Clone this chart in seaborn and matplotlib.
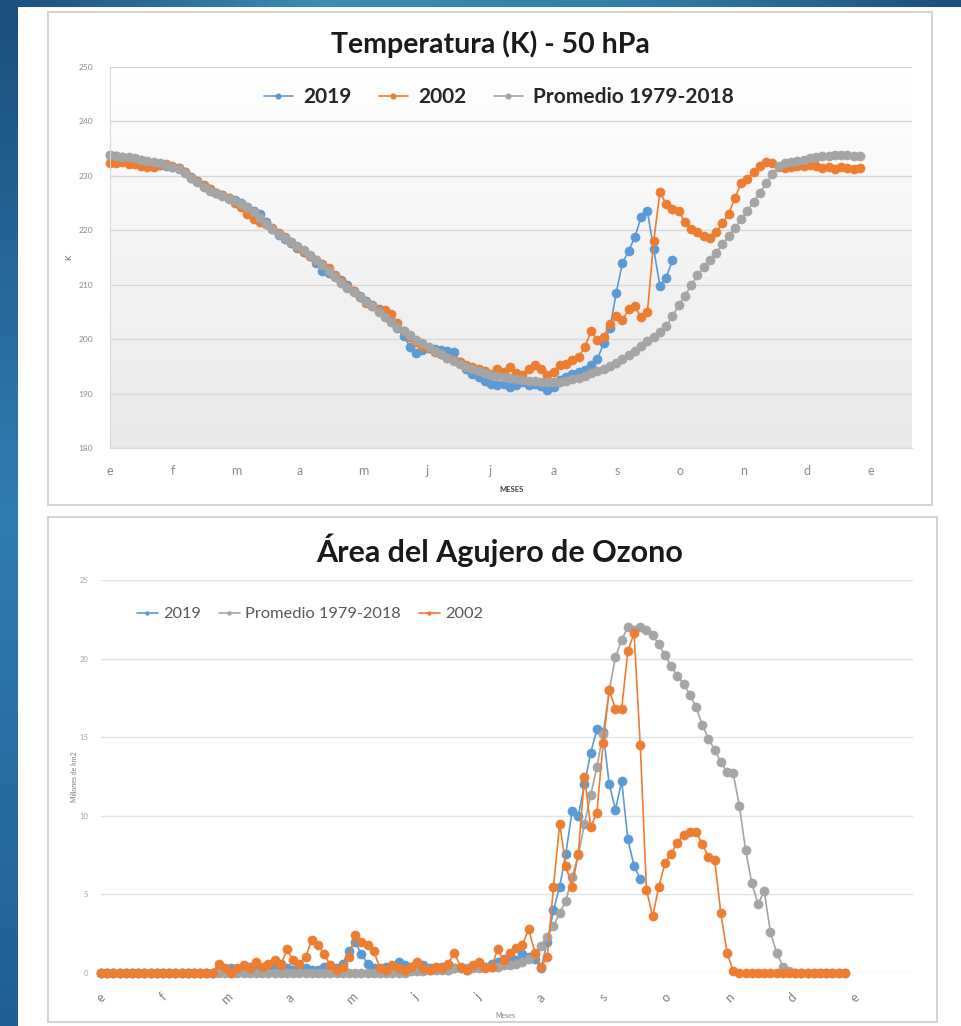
import numpy as np
import matplotlib
matplotlib.use("Agg")
import matplotlib.pyplot as plt
import seaborn as sns
from matplotlib.patches import Rectangle
from matplotlib.colors import LinearSegmentedColormap

# ---- datos: un valor cada 3 dias desde el 1 de enero ----
meses = ["e", "f", "m", "a", "m", "j", "j", "a", "s", "o", "n", "d", "e"]

temp_2019 = [
    233.9, 233.6, 233.4, 233.2, 233.1, 232.9, 232.3, 231.8, 232.0, 231.9,
    231.6, 231.5, 230.8, 229.8, 229.1, 228.2, 227.5, 226.9, 226.4, 225.9,
    225.5, 225.0, 224.3, 223.6, 223.0, 221.5, 220.3, 219.1, 218.4, 217.7,
    216.8, 216.1, 215.2, 214.0, 212.6, 212.1, 211.6, 210.8, 209.9, 208.9,
    207.9, 207.0, 206.2, 205.6, 204.6, 203.3, 202.0, 200.6, 198.6, 197.4,
    198.0, 198.3, 198.2, 198.0, 197.9, 197.6, 195.8, 194.6, 193.6, 193.0,
    192.4, 191.8, 191.5, 191.8, 191.2, 191.6, 192.2, 191.5, 191.7, 191.3,
    190.6, 191.2, 192.5, 193.1, 193.6, 194.0, 194.3, 195.2, 196.4, 199.2,
    202.0, 208.5, 214.0, 216.2, 218.8, 222.5, 223.5, 216.5, 209.8, 211.3,
    214.5,
]
temp_2002 = [
    232.3, 232.4, 232.5, 232.2, 232.1, 231.9, 231.6, 231.7, 232.0, 232.1,
    231.9, 231.4, 230.7, 229.6, 229.0, 228.3, 227.5, 226.9, 226.4, 225.9,
    225.0, 224.2, 223.0, 222.0, 221.6, 221.2, 220.4, 219.5, 218.7, 217.8,
    216.9, 216.1, 215.3, 214.6, 213.8, 213.0, 211.8, 210.6, 209.5, 208.8,
    207.8, 206.7, 206.0, 205.4, 205.3, 204.6, 203.0, 201.5, 200.4, 199.4,
    198.8, 198.3, 197.6, 197.2, 196.6, 196.2, 195.8, 195.3, 194.8, 194.6,
    194.2, 193.6, 194.5, 194.0, 194.9, 193.8, 193.5, 194.6, 195.2, 194.6,
    193.4, 194.0, 195.3, 195.5, 196.2, 196.8, 198.6, 201.5, 199.8, 200.4,
    202.8, 204.3, 203.5, 205.5, 206.0, 204.0, 205.0, 218.0, 227.0, 224.8,
    224.0, 223.5, 221.5, 220.3, 219.6, 219.0, 218.6, 219.6, 221.3, 223.0,
    226.0, 228.6, 229.5, 230.8, 231.9, 232.6, 232.3, 231.7, 231.5, 231.6,
    231.8, 231.9, 232.0, 231.9, 231.5, 231.7, 231.3, 231.6, 231.5, 231.3,
    231.4,
]
temp_prom = [
    233.8, 233.6, 233.5, 233.4, 233.2, 233.0, 232.8, 232.6, 232.3, 232.0,
    231.7, 231.3, 230.6, 229.6, 228.9, 228.0, 227.3, 226.8, 226.3, 225.8,
    225.4, 224.9, 224.2, 223.3, 222.3, 221.2, 220.2, 219.3, 218.6, 217.9,
    217.1, 216.3, 215.4, 214.5, 213.6, 212.6, 211.4, 210.3, 209.4, 208.6,
    207.8, 206.9, 206.0, 205.0, 204.0, 203.1, 202.3, 201.5, 200.7, 199.9,
    199.2, 198.5, 197.8, 197.2, 196.6, 196.0, 195.4, 194.9, 194.5, 194.1,
    193.8, 193.5, 193.2, 193.0, 192.8, 192.6, 192.5, 192.4, 192.3, 192.2,
    192.2, 192.2, 192.2, 192.3, 192.6, 192.9, 193.3, 193.7, 194.1, 194.6,
    195.1, 195.7, 196.4, 197.1, 197.9, 198.7, 199.6, 200.4, 201.3, 202.4,
    204.2, 206.2, 208.0, 209.9, 211.7, 213.2, 214.6, 215.9, 217.4, 218.9,
    220.4, 222.0, 223.6, 225.2, 226.9, 228.6, 230.4, 231.9, 232.4, 232.6,
    232.8, 233.0, 233.2, 233.4, 233.6, 233.7, 233.8, 233.8, 233.8, 233.7,
    233.6,
]

area_2019 = [
    0, 0, 0, 0, 0, 0, 0, 0, 0, 0,
    0, 0, 0, 0, 0, 0, 0, 0, 0, 0.2,
    0.1, 0.3, 0.1, 0.2, 0.4, 0.3, 0.1, 0.3, 0.5, 0.6,
    0.3, 0.2, 0.4, 0.3, 0.2, 0.2, 0.4, 0.2, 0.3, 0.6,
    1.4, 2.0, 1.2, 0.6, 0.3, 0.2, 0.4, 0.3, 0.7, 0.5,
    0.4, 0.3, 0.5, 0.3, 0.3, 0.4, 0.2, 0.3, 0.3, 0.2,
    0.4, 0.5, 0.4, 0.6, 0.7, 0.9, 1.1, 0.8, 1.2, 1.0,
    0.9, 0.3, 2.0, 4.0, 5.5, 7.6, 10.3, 10.0, 12.0, 14.0,
    15.5, 15.3, 12.0, 10.4, 12.2, 8.5, 6.8, 6.0,
]
area_prom = [
    0, 0, 0, 0, 0, 0, 0, 0, 0, 0,
    0, 0, 0, 0, 0, 0, 0, 0, 0, 0,
    0, 0, 0, 0, 0, 0, 0, 0, 0, 0,
    0, 0, 0, 0, 0, 0, 0, 0, 0, 0,
    0, 0, 0, 0, 0, 0, 0, 0, 0, 0,
    0.1, 0.1, 0.1, 0.2, 0.2, 0.2, 0.2, 0.3, 0.3, 0.3,
    0.3, 0.3, 0.4, 0.4, 0.4, 0.5, 0.5, 0.6, 0.7, 0.9,
    1.2, 1.7, 2.3, 3.0, 3.8, 4.6, 6.1, 7.5, 9.5, 11.3,
    13.1, 15.2, 18.0, 20.1, 21.2, 22.0, 21.8, 22.0, 21.8, 21.5,
    20.9, 20.2, 19.5, 18.9, 18.4, 17.7, 16.9, 15.8, 14.9, 14.2,
    13.4, 12.8, 12.7, 10.6, 7.8, 5.7, 4.4, 5.2, 2.6, 1.3,
    0.4, 0.1, 0, 0, 0, 0, 0, 0, 0, 0,
    0,
]
area_2002 = [
    0, 0, 0, 0, 0, 0, 0, 0, 0, 0,
    0, 0, 0, 0, 0, 0, 0, 0, 0, 0.6,
    0.3, 0.0, 0.3, 0.5, 0.3, 0.7, 0.4, 0.6, 0.8, 0.5,
    1.5, 0.8, 0.6, 1.0, 2.1, 1.8, 1.2, 0.5, 0.2, 0.4,
    1.0, 2.4, 2.0, 1.8, 1.4, 0.3, 0.2, 0.5, 0.3, 0.2,
    0.4, 0.7, 0.3, 0.2, 0.4, 0.3, 0.6, 1.3, 0.4, 0.2,
    0.5, 0.7, 0.3, 0.4, 1.5, 0.8, 1.3, 1.6, 1.8, 2.8,
    1.3, 0.4, 1.0, 5.5, 9.5, 6.8, 5.5, 7.6, 12.5, 9.3,
    10.2, 14.6, 18.0, 16.8, 16.8, 20.5, 21.6, 14.5, 5.3, 3.6,
    5.5, 7.0, 7.6, 8.3, 8.8, 9.0, 9.0, 8.2, 7.4, 7.2,
    3.8, 1.3, 0.1, 0, 0, 0, 0, 0, 0, 0,
    0, 0, 0, 0, 0, 0, 0, 0, 0, 0,
    0,
]

AZUL = "#5b9bd5"
NARANJA = "#ed7d31"
GRIS = "#a5a5a5"

sns.set_style("white")
plt.rcParams["font.family"] = ["Lato", "DejaVu Sans"]

W, H = 961, 1026
fig = plt.figure(figsize=(W / 100, H / 100), dpi=100)
fig.patch.set_facecolor("white")

# franjas azules del fondo de la diapositiva
strip = fig.add_axes([0, 0, 18 / W, 1])
strip.imshow(np.linspace(0, 1, 100).reshape(-1, 1), aspect="auto",
             cmap=LinearSegmentedColormap.from_list("s", ["#1b4f7c", "#2f7db3", "#1f5f94"]))
strip.axis("off")
top = fig.add_axes([0, 1 - 7 / H, 1, 7 / H])
top.imshow(np.linspace(0, 1, 200).reshape(1, -1), aspect="auto",
           cmap=LinearSegmentedColormap.from_list("t", ["#1b4f7c", "#3a8fb5", "#2f7fa8", "#1b4f7c"]))
top.axis("off")


def panel(x0, y0, x1, y1):
    fig.patches.append(Rectangle((x0 / W, 1 - y1 / H), (x1 - x0) / W, (y1 - y0) / H,
                                 transform=fig.transFigure, facecolor="white",
                                 edgecolor="#d4d4d4", lw=1.5, zorder=-5))


panel(48, 12, 932, 505)
panel(48, 517, 937, 1022)


def serie(ax, vals, color, label, ms=6.5):
    dias = np.arange(len(vals)) * 3
    sns.lineplot(x=dias, y=vals, ax=ax, color=color, marker="o", markersize=ms,
                 markeredgecolor=color, markeredgewidth=0.5, linewidth=1.2,
                 label=label, clip_on=False)


ticks_x = [i * 365 / 12 for i in range(13)]

# ---------------- Temperatura ----------------
ax1 = fig.add_axes([110 / W, 1 - 448 / H, 802 / W, 381 / H])
grad = np.linspace(1, 0, 100).reshape(-1, 1)
ax1.imshow(grad, extent=[0, 1, 0, 1], transform=ax1.transAxes, aspect="auto",
           cmap=LinearSegmentedColormap.from_list("g", ["#e9e9e9", "#ffffff"]), zorder=0)
serie(ax1, temp_2019, AZUL, "2019")
serie(ax1, temp_2002, NARANJA, "2002")
serie(ax1, temp_prom, GRIS, "Promedio 1979-2018")
ax1.set_xlim(0, 385)
ax1.set_ylim(180, 250)
ax1.set_yticks(range(180, 251, 10))
ax1.set_xticks(ticks_x)
ax1.set_xticklabels(meses)
ax1.tick_params(axis="y", labelsize=6, colors="#8c8c8c", length=0, pad=12)
ax1.tick_params(axis="x", labelsize=9, colors="#8c8c8c", length=0, pad=12)
ax1.yaxis.grid(True, color="#d9d9d9", lw=1)
ax1.set_axisbelow(True)
for s in ["top", "right"]:
    ax1.spines[s].set_visible(False)
for s in ["left", "bottom"]:
    ax1.spines[s].set_color("#d9d9d9")
ax1.set_ylabel("K", fontsize=6, color="#595959")
ax1.yaxis.set_label_coords(-0.047, 0.5)
ax1.set_xlabel("MESES", fontsize=5.5, fontweight="bold", color="#404040")
ax1.xaxis.set_label_coords(0.501, -0.1)
leg1 = ax1.legend(loc="center", bbox_to_anchor=(0.485, 0.921), ncol=3, frameon=False,
                  prop={"size": 15, "weight": "bold"}, handlelength=1.4, columnspacing=1.3,
                  markerscale=0.6, handletextpad=0.5)
fig.text(490 / W, 1 - 44 / H, "Temperatura (K) - 50 hPa", ha="center", va="center",
         fontsize=20.5, fontweight="bold", color="#1a1a1a")

# ---------------- Area del agujero ----------------
ax2 = fig.add_axes([101 / W, 1 - 973 / H, 812 / W, 393 / H])
serie(ax2, area_2019, AZUL, "2019")
serie(ax2, area_prom, GRIS, "Promedio 1979-2018")
serie(ax2, area_2002, NARANJA, "2002")
ax2.set_xlim(0, 393)
ax2.set_ylim(0, 25)
ax2.set_yticks(range(0, 26, 5))
ax2.set_xticks(ticks_x)
ax2.set_xticklabels(meses, rotation=45)
ax2.tick_params(axis="y", labelsize=5.5, colors="#a6a6a6", length=0, pad=9)
ax2.tick_params(axis="x", labelsize=9, colors="#7f7f7f", length=0, pad=13)
ax2.yaxis.grid(True, color="#e3e3e3", lw=1)
ax2.set_axisbelow(True)
sns.despine(ax=ax2, left=True, bottom=True)
ax2.set_ylabel("Millones de km2", fontsize=5, color="#7f7f7f")
ax2.yaxis.set_label_coords(-0.028, 0.5)
ax2.set_xlabel("Meses", fontsize=5, color="#7f7f7f")
ax2.xaxis.set_label_coords(0.4975, -0.099)
leg2 = ax2.legend(loc="center", bbox_to_anchor=(0.257, 0.913), ncol=3, frameon=False,
                  prop={"size": 11.8}, handlelength=1.3, columnspacing=1.1,
                  markerscale=0.4, handletextpad=0.3)
for t in leg2.get_texts():
    t.set_color("#595959")
fig.text(500 / W, 1 - 550 / H, "Área del Agujero de Ozono", ha="center", va="center",
         fontsize=22, fontweight="bold", color="#1a1a1a")

fig.savefig("out.png", dpi=100)
